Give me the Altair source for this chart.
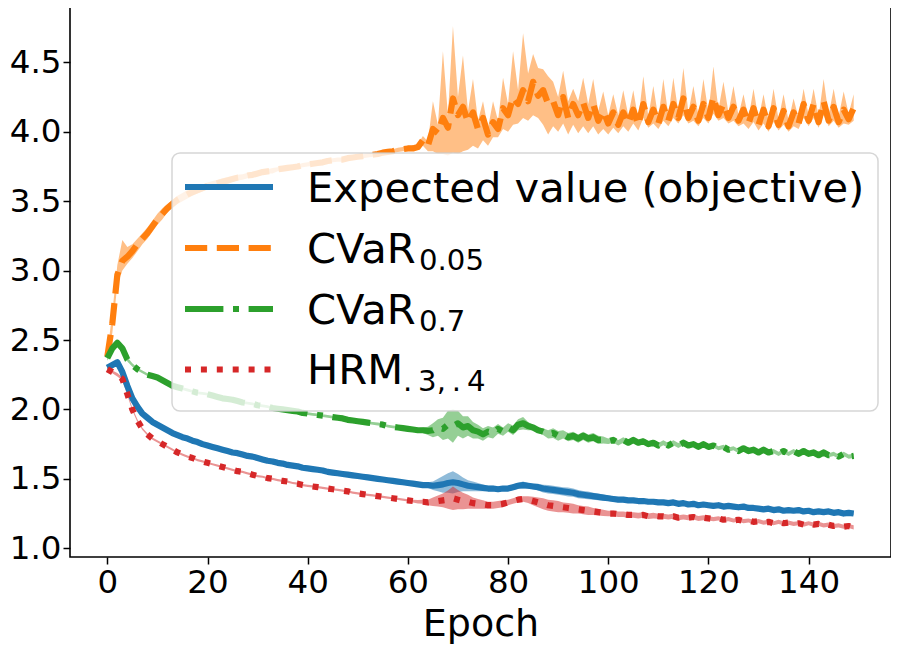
import altair as alt
import pandas as pd

epochs = list(range(150))

# ---- Expected value (objective) ----
exp_mean = [
    2.30, 2.32, 2.34, 2.27, 2.17, 2.08, 2.02, 1.97, 1.94, 1.91,
    1.89, 1.87, 1.85, 1.83, 1.815, 1.80, 1.79, 1.775, 1.765, 1.75,
    1.74, 1.73, 1.72, 1.71, 1.70, 1.69, 1.685, 1.675, 1.665, 1.66,
    1.65, 1.64, 1.63, 1.625, 1.615, 1.61, 1.60, 1.595, 1.59, 1.58,
    1.575, 1.57, 1.565, 1.56, 1.55, 1.545, 1.54, 1.535, 1.53, 1.525,
    1.52, 1.515, 1.51, 1.505, 1.50, 1.495, 1.49, 1.485, 1.48, 1.475,
    1.47, 1.465, 1.46, 1.455, 1.455, 1.45, 1.455, 1.46, 1.47, 1.475,
    1.47, 1.46, 1.45, 1.445, 1.44, 1.435, 1.43, 1.43, 1.425, 1.43,
    1.43, 1.44, 1.45, 1.455, 1.45, 1.445, 1.44, 1.43, 1.425, 1.42,
    1.415, 1.41, 1.405, 1.40, 1.39, 1.385, 1.38, 1.375, 1.37, 1.365,
    1.36, 1.355, 1.35, 1.35, 1.345, 1.345, 1.34, 1.34, 1.335, 1.335,
    1.33, 1.33, 1.325, 1.33, 1.32, 1.325, 1.315, 1.32, 1.31, 1.315,
    1.31, 1.305, 1.31, 1.30, 1.305, 1.30, 1.295, 1.30, 1.29, 1.29,
    1.285, 1.28, 1.285, 1.275, 1.28, 1.27, 1.275, 1.27, 1.275, 1.265,
    1.27, 1.26, 1.265, 1.26, 1.265, 1.255, 1.26, 1.25, 1.255, 1.25,
]
exp_spread = [
    0.01, 0.012, 0.015, 0.015, 0.012, 0.01, 0.01, 0.008, 0.008, 0.008,
    0.008, 0.008, 0.008, 0.008, 0.008, 0.008, 0.008, 0.008, 0.008, 0.008,
    0.008, 0.008, 0.008, 0.008, 0.008, 0.008, 0.008, 0.008, 0.008, 0.008,
    0.007, 0.007, 0.007, 0.007, 0.007, 0.007, 0.007, 0.007, 0.007, 0.007,
    0.007, 0.007, 0.007, 0.007, 0.007, 0.007, 0.007, 0.007, 0.007, 0.007,
    0.008, 0.008, 0.008, 0.008, 0.008, 0.008, 0.008, 0.008, 0.008, 0.008,
    0.008, 0.01, 0.012, 0.015, 0.02, 0.03, 0.045, 0.06, 0.07, 0.08,
    0.065, 0.05, 0.04, 0.035, 0.03, 0.025, 0.02, 0.02, 0.018, 0.018,
    0.018, 0.02, 0.022, 0.025, 0.02, 0.02, 0.025, 0.028, 0.03, 0.03,
    0.03, 0.03, 0.032, 0.03, 0.03, 0.028, 0.028, 0.025, 0.025, 0.022,
    0.02, 0.02, 0.018, 0.018, 0.016, 0.015, 0.015, 0.014, 0.014, 0.013,
    0.012, 0.012, 0.012, 0.012, 0.012, 0.012, 0.012, 0.012, 0.012, 0.012,
    0.012, 0.012, 0.012, 0.012, 0.012, 0.012, 0.012, 0.012, 0.012, 0.012,
    0.012, 0.012, 0.012, 0.012, 0.012, 0.012, 0.012, 0.012, 0.012, 0.012,
    0.012, 0.012, 0.012, 0.012, 0.012, 0.012, 0.012, 0.012, 0.012, 0.012,
]

# ---- CVaR 0.05 ----
c05_mean = [
    2.38, 2.62, 2.97, 3.07, 3.10, 3.14, 3.19, 3.23, 3.27, 3.32,
    3.37, 3.41, 3.45, 3.48, 3.51, 3.53, 3.55, 3.565, 3.58, 3.595,
    3.61, 3.62, 3.63, 3.64, 3.65, 3.66, 3.67, 3.675, 3.685, 3.69,
    3.70, 3.71, 3.715, 3.72, 3.73, 3.735, 3.74, 3.745, 3.75, 3.76,
    3.765, 3.77, 3.775, 3.78, 3.79, 3.795, 3.80, 3.80, 3.81, 3.815,
    3.82, 3.825, 3.83, 3.835, 3.84, 3.85, 3.855, 3.86, 3.87, 3.875,
    3.88, 3.88, 3.89, 3.94, 3.90, 4.02, 3.99, 4.10, 4.03, 4.24,
    4.12, 4.18, 4.07, 4.14, 4.02, 4.10, 3.98, 4.07, 4.02, 4.17,
    4.12, 4.25, 4.20, 4.30, 4.22, 4.36, 4.26, 4.30, 4.20, 4.22,
    4.12, 4.25, 4.10, 4.20, 4.12, 4.21, 4.10, 4.20, 4.08, 4.15,
    4.06, 4.14, 4.05, 4.14, 4.06, 4.16, 4.05, 4.20, 4.07, 4.16,
    4.06, 4.18, 4.08, 4.20, 4.10, 4.24, 4.10, 4.18, 4.08, 4.20,
    4.10, 4.25, 4.12, 4.20, 4.10, 4.18, 4.08, 4.16, 4.06, 4.17,
    4.05, 4.16, 4.04, 4.17, 4.05, 4.15, 4.04, 4.14, 4.06, 4.20,
    4.08, 4.20, 4.07, 4.22, 4.08, 4.18, 4.07, 4.16, 4.09, 4.17,
]
c05_upper = [
    2.40, 2.70, 3.04, 3.22, 3.17, 3.19, 3.23, 3.27, 3.31, 3.36,
    3.41, 3.45, 3.48, 3.51, 3.54, 3.56, 3.58, 3.59, 3.605, 3.62,
    3.635, 3.645, 3.655, 3.665, 3.675, 3.68, 3.69, 3.695, 3.705, 3.71,
    3.72, 3.73, 3.73, 3.74, 3.745, 3.75, 3.755, 3.76, 3.765, 3.775,
    3.78, 3.785, 3.79, 3.795, 3.805, 3.81, 3.815, 3.815, 3.825, 3.83,
    3.835, 3.84, 3.845, 3.85, 3.855, 3.865, 3.87, 3.875, 3.885, 3.89,
    3.90, 3.90, 3.91, 3.97, 3.93, 4.22, 4.05, 4.58, 4.12, 4.76,
    4.25, 4.55, 4.15, 4.38, 4.08, 4.22, 4.03, 4.22, 4.08, 4.39,
    4.20, 4.58, 4.30, 4.71, 4.42, 4.56, 4.46, 4.45, 4.40, 4.36,
    4.25, 4.44, 4.22, 4.31, 4.22, 4.39, 4.20, 4.38, 4.15, 4.29,
    4.12, 4.27, 4.12, 4.30, 4.12, 4.30, 4.09, 4.40, 4.11, 4.33,
    4.10, 4.38, 4.12, 4.39, 4.14, 4.46, 4.14, 4.33, 4.12, 4.38,
    4.14, 4.47, 4.16, 4.36, 4.14, 4.33, 4.12, 4.27, 4.10, 4.31,
    4.09, 4.27, 4.08, 4.31, 4.09, 4.27, 4.08, 4.24, 4.10, 4.31,
    4.12, 4.31, 4.11, 4.38, 4.12, 4.31, 4.11, 4.29, 4.13, 4.27,
]
c05_lower = [
    2.36, 2.55, 2.90, 3.00, 3.05, 3.09, 3.14, 3.19, 3.23, 3.28,
    3.33, 3.37, 3.42, 3.45, 3.48, 3.50, 3.52, 3.54, 3.555, 3.57,
    3.585, 3.595, 3.605, 3.615, 3.625, 3.64, 3.65, 3.655, 3.665, 3.67,
    3.68, 3.69, 3.70, 3.70, 3.715, 3.72, 3.725, 3.73, 3.735, 3.745,
    3.75, 3.755, 3.76, 3.765, 3.775, 3.78, 3.785, 3.785, 3.795, 3.80,
    3.805, 3.81, 3.815, 3.82, 3.825, 3.835, 3.84, 3.845, 3.855, 3.86,
    3.865, 3.865, 3.87, 3.90, 3.86, 3.86, 3.84, 3.84, 3.83, 3.85,
    3.84, 3.86, 3.87, 3.90, 3.88, 3.94, 3.90, 3.96, 3.96, 4.02,
    4.00, 4.05, 4.06, 4.10, 4.08, 4.12, 4.10, 4.05, 3.98, 4.04,
    4.00, 4.06, 3.98, 4.05, 3.99, 4.04, 3.99, 4.04, 3.98, 4.02,
    3.98, 4.03, 3.99, 4.04, 4.00, 4.06, 4.01, 4.10, 4.03, 4.06,
    4.02, 4.08, 4.04, 4.10, 4.06, 4.12, 4.06, 4.08, 4.04, 4.10,
    4.06, 4.13, 4.08, 4.10, 4.06, 4.08, 4.04, 4.06, 4.02, 4.07,
    4.01, 4.06, 4.00, 4.07, 4.01, 4.05, 4.00, 4.04, 4.02, 4.10,
    4.04, 4.10, 4.03, 4.12, 4.04, 4.08, 4.03, 4.06, 4.05, 4.08,
]

# ---- CVaR 0.7 ----
c07_mean = [
    2.37, 2.44, 2.48, 2.44, 2.36, 2.32, 2.29, 2.27, 2.25, 2.24,
    2.23, 2.21, 2.19, 2.17, 2.16, 2.15, 2.14, 2.13, 2.12, 2.115,
    2.11, 2.10, 2.09, 2.08, 2.075, 2.07, 2.06, 2.05, 2.045, 2.04,
    2.03, 2.025, 2.02, 2.01, 2.005, 2.00, 1.995, 1.99, 1.985, 1.975,
    1.97, 1.965, 1.96, 1.955, 1.95, 1.945, 1.94, 1.935, 1.925, 1.92,
    1.915, 1.91, 1.905, 1.90, 1.895, 1.89, 1.88, 1.875, 1.87, 1.865,
    1.86, 1.855, 1.85, 1.85, 1.845, 1.85, 1.87, 1.86, 1.89, 1.88,
    1.90, 1.87, 1.88, 1.85, 1.84, 1.82, 1.84, 1.83, 1.86, 1.84,
    1.87, 1.85, 1.89, 1.90, 1.88, 1.87, 1.85, 1.84, 1.82, 1.83,
    1.81, 1.82, 1.80, 1.81, 1.79, 1.81, 1.79, 1.80, 1.78, 1.78,
    1.77, 1.78, 1.76, 1.78, 1.76, 1.78, 1.76, 1.77, 1.75, 1.76,
    1.74, 1.76, 1.74, 1.76, 1.74, 1.76, 1.74, 1.75, 1.73, 1.75,
    1.73, 1.74, 1.72, 1.73, 1.71, 1.72, 1.70, 1.72, 1.70, 1.71,
    1.69, 1.71, 1.69, 1.70, 1.68, 1.70, 1.68, 1.70, 1.68, 1.70,
    1.68, 1.69, 1.67, 1.69, 1.67, 1.68, 1.66, 1.68, 1.66, 1.665,
]
c07_spread = [
    0.02, 0.025, 0.02, 0.02, 0.015, 0.012, 0.01, 0.01, 0.01, 0.01,
    0.01, 0.01, 0.01, 0.01, 0.01, 0.01, 0.01, 0.01, 0.01, 0.01,
    0.01, 0.01, 0.01, 0.01, 0.01, 0.01, 0.01, 0.01, 0.01, 0.01,
    0.01, 0.01, 0.01, 0.01, 0.01, 0.01, 0.01, 0.01, 0.01, 0.01,
    0.01, 0.01, 0.01, 0.01, 0.01, 0.01, 0.01, 0.01, 0.01, 0.01,
    0.01, 0.01, 0.01, 0.01, 0.01, 0.01, 0.01, 0.01, 0.01, 0.01,
    0.01, 0.012, 0.015, 0.02, 0.03, 0.05, 0.06, 0.08, 0.10, 0.12,
    0.09, 0.08, 0.07, 0.06, 0.05, 0.045, 0.04, 0.04, 0.035, 0.03,
    0.03, 0.035, 0.04, 0.045, 0.03, 0.02, 0.02, 0.025, 0.03, 0.035,
    0.035, 0.03, 0.03, 0.03, 0.03, 0.03, 0.03, 0.03, 0.03, 0.025,
    0.02, 0.02, 0.02, 0.02, 0.02, 0.02, 0.02, 0.02, 0.02, 0.02,
    0.018, 0.018, 0.018, 0.018, 0.018, 0.018, 0.018, 0.018, 0.018, 0.018,
    0.015, 0.015, 0.015, 0.015, 0.015, 0.015, 0.015, 0.015, 0.015, 0.015,
    0.015, 0.015, 0.015, 0.015, 0.015, 0.015, 0.015, 0.015, 0.015, 0.015,
    0.015, 0.015, 0.015, 0.015, 0.015, 0.015, 0.015, 0.015, 0.015, 0.015,
]

# ---- HRM .3,.4 ----
hrm_mean = [
    2.29, 2.27, 2.25, 2.22, 2.11, 2.00, 1.92, 1.86, 1.82, 1.79,
    1.77, 1.75, 1.73, 1.71, 1.69, 1.675, 1.66, 1.65, 1.635, 1.625,
    1.615, 1.605, 1.595, 1.585, 1.575, 1.565, 1.555, 1.55, 1.54, 1.53,
    1.52, 1.515, 1.505, 1.50, 1.49, 1.485, 1.48, 1.47, 1.465, 1.455,
    1.45, 1.445, 1.44, 1.435, 1.43, 1.425, 1.42, 1.415, 1.41, 1.40,
    1.395, 1.39, 1.385, 1.38, 1.375, 1.37, 1.365, 1.36, 1.355, 1.35,
    1.345, 1.34, 1.335, 1.335, 1.33, 1.335, 1.34, 1.345, 1.35, 1.36,
    1.35, 1.34, 1.335, 1.325, 1.32, 1.315, 1.31, 1.31, 1.315, 1.32,
    1.33, 1.34, 1.35, 1.355, 1.35, 1.34, 1.33, 1.32, 1.31, 1.305,
    1.30, 1.295, 1.29, 1.285, 1.28, 1.275, 1.27, 1.265, 1.26, 1.255,
    1.25, 1.25, 1.245, 1.245, 1.24, 1.24, 1.235, 1.24, 1.23, 1.235,
    1.23, 1.23, 1.225, 1.23, 1.22, 1.225, 1.22, 1.225, 1.215, 1.22,
    1.215, 1.21, 1.215, 1.205, 1.21, 1.20, 1.205, 1.195, 1.20, 1.19,
    1.195, 1.185, 1.19, 1.18, 1.19, 1.18, 1.185, 1.175, 1.18, 1.17,
    1.18, 1.17, 1.175, 1.165, 1.17, 1.16, 1.165, 1.155, 1.16, 1.15,
]
hrm_spread = [
    0.01, 0.01, 0.012, 0.012, 0.01, 0.01, 0.01, 0.008, 0.008, 0.008,
    0.008, 0.008, 0.008, 0.008, 0.008, 0.008, 0.008, 0.008, 0.008, 0.008,
    0.008, 0.008, 0.008, 0.008, 0.008, 0.008, 0.008, 0.008, 0.008, 0.008,
    0.008, 0.008, 0.008, 0.008, 0.008, 0.008, 0.008, 0.008, 0.008, 0.008,
    0.008, 0.008, 0.008, 0.008, 0.008, 0.008, 0.008, 0.008, 0.008, 0.008,
    0.008, 0.008, 0.008, 0.008, 0.008, 0.008, 0.008, 0.008, 0.008, 0.008,
    0.008, 0.01, 0.012, 0.015, 0.02, 0.03, 0.04, 0.05, 0.065, 0.085,
    0.07, 0.06, 0.05, 0.04, 0.035, 0.03, 0.025, 0.025, 0.025, 0.025,
    0.02, 0.02, 0.02, 0.02, 0.025, 0.03, 0.035, 0.04, 0.04, 0.04,
    0.04, 0.035, 0.035, 0.035, 0.03, 0.03, 0.03, 0.025, 0.025, 0.022,
    0.02, 0.02, 0.02, 0.02, 0.02, 0.02, 0.02, 0.02, 0.02, 0.02,
    0.018, 0.018, 0.018, 0.018, 0.018, 0.018, 0.018, 0.018, 0.018, 0.018,
    0.015, 0.015, 0.015, 0.015, 0.015, 0.015, 0.015, 0.015, 0.015, 0.015,
    0.015, 0.015, 0.015, 0.015, 0.015, 0.015, 0.015, 0.015, 0.015, 0.015,
    0.015, 0.015, 0.015, 0.015, 0.015, 0.015, 0.015, 0.015, 0.015, 0.015,
]

legend_main = ["Expected value (objective)", "CVaR", "CVaR", "HRM"]
legend_sub = ["", "0.05", "0.7", ".\u20093,\u2009.\u20094"]
x_ticks = [0, 20, 40, 60, 80, 100, 120, 140]
y_ticks = [1.0, 1.5, 2.0, 2.5, 3.0, 3.5, 4.0, 4.5]
colors = ["#1f77b4", "#ff7f0e", "#2ca02c", "#d62728"]

for arr in [exp_mean, exp_spread, c05_mean, c05_upper, c05_lower,
            c07_mean, c07_spread, hrm_mean, hrm_spread]:
    assert len(arr) == 150, len(arr)

LW = 6.2
dashes = [None, [22.2, 9.6], [38.4, 9.6, 6, 9.6], [6, 9.9]]

def sym(mean, spread):
    return ([m - s for m, s in zip(mean, spread)], [m + s for m, s in zip(mean, spread)])

bands = [
    sym(exp_mean, exp_spread),
    (c05_lower, c05_upper),
    sym(c07_mean, c07_spread),
    sym(hrm_mean, hrm_spread),
]
means = [exp_mean, c05_mean, c07_mean, hrm_mean]

FONT = "DejaVu Sans"
W, H = 821, 557
xscale = alt.Scale(domain=[-7.45, 156.45], nice=False, zero=False)
yscale = alt.Scale(domain=[0.9368, 4.9496], nice=False, zero=False)
xaxis = alt.Axis(values=x_ticks, title="Epoch", grid=False, labelFontSize=32.5,
                 titleFontSize=38, tickSize=7, tickWidth=1.5, tickColor="black",
                 labelColor="black", titleColor="black", labelPadding=2, titlePadding=7,
                 domain=False, labelFont=FONT, titleFont=FONT, titleFontWeight="normal",
                 labelFlush=False, labelOverlap=False)
yaxis = alt.Axis(values=y_ticks, format=".1f", title=None, grid=False, labelFontSize=32.5,
                 tickSize=7, tickWidth=1.5, tickColor="black", labelColor="black",
                 labelPadding=2, domain=False, labelFont=FONT, labelFlush=False,
                 labelOverlap=False)

areas = []
lines = []
for i in range(4):
    lo, hi = bands[i]
    df = pd.DataFrame({"epoch": epochs, "mean": means[i], "lo": lo, "hi": hi})
    areas.append(
        alt.Chart(df).mark_area(color=colors[i], opacity=0.5).encode(
            x=alt.X("epoch:Q", scale=xscale, axis=xaxis),
            y=alt.Y("lo:Q", scale=yscale, axis=yaxis),
            y2="hi:Q",
        )
    )
    lkw = dict(color=colors[i], strokeWidth=LW, strokeJoin="round")
    if dashes[i] is not None:
        lkw["strokeDash"] = dashes[i]
    lines.append(
        alt.Chart(df).mark_line(**lkw).encode(
            x=alt.X("epoch:Q", scale=xscale, axis=xaxis),
            y=alt.Y("mean:Q", scale=yscale, axis=yaxis),
        )
    )

one = pd.DataFrame({"k": [0]})
legend_layers = [
    alt.Chart(one).mark_rect(fill="white", fillOpacity=0.8, stroke="#cccccc",
                             strokeOpacity=0.8, strokeWidth=1.5, cornerRadius=8).encode(
        x=alt.value(102), x2=alt.value(808), y=alt.value(153), y2=alt.value(411)
    )
]
row_base = [201.5, 262.5, 323.5, 384.0]
for i in range(4):
    rkw = dict(color=colors[i], strokeWidth=LW)
    if dashes[i] is not None:
        rkw["strokeDash"] = dashes[i]
    legend_layers.append(
        alt.Chart(one).mark_rule(**rkw).encode(
            x=alt.value(115), x2=alt.value(203), y=alt.value(row_base[i] - 14.5)
        )
    )
    legend_layers.append(
        alt.Chart(one).mark_text(align="left", baseline="alphabetic", fontSize=41.67,
                                 font=FONT, color="black").encode(
            x=alt.value(237), y=alt.value(row_base[i]), text=alt.value(legend_main[i])
        )
    )
sub_x = [0, 349, 349, 333]
for i in range(1, 4):
    legend_layers.append(
        alt.Chart(one).mark_text(align="left", baseline="alphabetic", fontSize=29.2,
                                 font=FONT, color="black").encode(
            x=alt.value(sub_x[i]), y=alt.value(row_base[i] + 7), text=alt.value(legend_sub[i])
        )
    )

chart = alt.layer(*areas, *lines, *legend_layers).properties(
    width=W, height=H,
    autosize=alt.AutoSizeParams(type="none"),
    padding={"left": 62, "top": -8, "right": 0, "bottom": 89},
).configure(font=FONT).configure_view(stroke="black", strokeWidth=1.6)

chart.save("out.html", embed_options={"renderer": "svg", "actions": False})
